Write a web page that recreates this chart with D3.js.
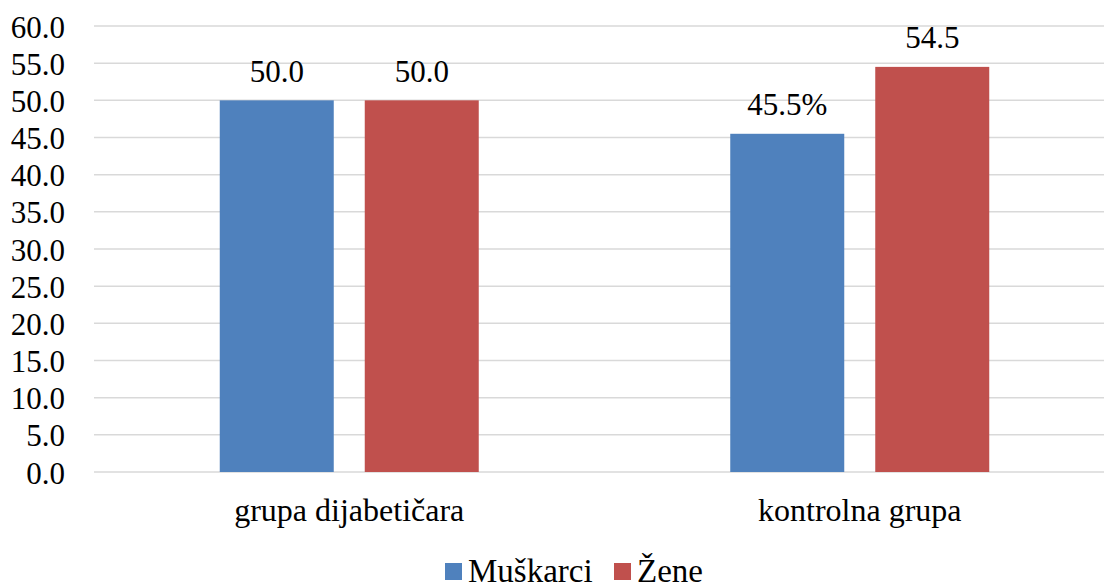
<!DOCTYPE html>
<html>
<head>
<meta charset="utf-8">
<script src="https://cdn.jsdelivr.net/npm/d3@7/dist/d3.min.js"></script>
<style>
  html, body { margin: 0; padding: 0; background: #fff; overflow: hidden; }
  svg { display: block; }
</style>
</head>
<body>
<svg id="chart" width="1104" height="584" font-family="'Liberation Serif', 'Times New Roman', Times, serif"></svg>
<script>
// Chart data
const categories = ["grupa dijabetičara", "kontrolna grupa"];
const seriesNames = ["Muškarci", "Žene"];
const muskarci = [50.0, 45.5];
const zene = [50.0, 54.5];
const valueLabels = [["50.0", "45.5%"], ["50.0", "54.5"]];
const yTicks = [0, 5, 10, 15, 20, 25, 30, 35, 40, 45, 50, 55, 60];
const colors = ["#4F81BD", "#C0504D"];

const seriesValues = [muskarci, zene];
const svg = d3.select("#chart");
const FONT = "'Liberation Serif', 'Times New Roman', Times, serif";

const plotLeft = 94, plotRight = 1115, plotTop = 26, plotBottom = 472;

const x0 = d3.scaleBand().domain(categories).range([plotLeft, plotRight]).paddingInner(0).paddingOuter(0);
const y = d3.scaleLinear().domain([0, 60]).range([plotBottom, plotTop]);

const barW = 114, barGap = 31;
const x1 = d3.scaleOrdinal().domain(seriesNames).range([-(barW + barGap / 2), barGap / 2]);

// Horizontal gridlines
svg.append("g").selectAll("line").data(yTicks).join("line")
  .attr("x1", plotLeft).attr("x2", plotRight)
  .attr("y1", d => y(d)).attr("y2", d => y(d))
  .attr("stroke", "#d9d9d9").attr("stroke-width", 1.5);

// Y tick labels
svg.append("g").selectAll("text").data(yTicks).join("text")
  .attr("x", 65).attr("y", d => y(d) + 11.5)
  .attr("text-anchor", "end").attr("font-size", 31).attr("font-family", FONT)
  .text(d => d.toFixed(1));

// Bars and value labels
seriesNames.forEach((s, si) => {
  const g = svg.append("g");
  g.selectAll("rect").data(categories).join("rect")
    .attr("x", c => x0(c) + x0.bandwidth() / 2 + x1(s))
    .attr("y", (c, i) => y(seriesValues[si][i]))
    .attr("width", barW)
    .attr("height", (c, i) => y(0) - y(seriesValues[si][i]))
    .attr("fill", colors[si]);
  g.selectAll("text").data(categories).join("text")
    .attr("x", c => x0(c) + x0.bandwidth() / 2 + x1(s) + barW / 2)
    .attr("y", (c, i) => y(seriesValues[si][i]) - 18.5)
    .attr("text-anchor", "middle").attr("font-size", 31).attr("font-family", FONT)
    .text((c, i) => valueLabels[si][i]);
});

// Category labels
svg.append("g").selectAll("text").data(categories).join("text")
  .attr("x", c => x0(c) + x0.bandwidth() / 2)
  .attr("y", 521)
  .attr("text-anchor", "middle").attr("font-size", 32).attr("font-family", FONT)
  .text(c => c);

// Legend
const legendX = [445, 614];
const legend = svg.append("g");
seriesNames.forEach((s, i) => {
  legend.append("rect").attr("x", legendX[i]).attr("y", 563)
    .attr("width", 17).attr("height", 17).attr("fill", colors[i]);
  legend.append("text").attr("x", legendX[i] + 23).attr("y", 581.5)
    .attr("font-size", 33).attr("font-family", FONT).text(s);
});
</script>
</body>
</html>
